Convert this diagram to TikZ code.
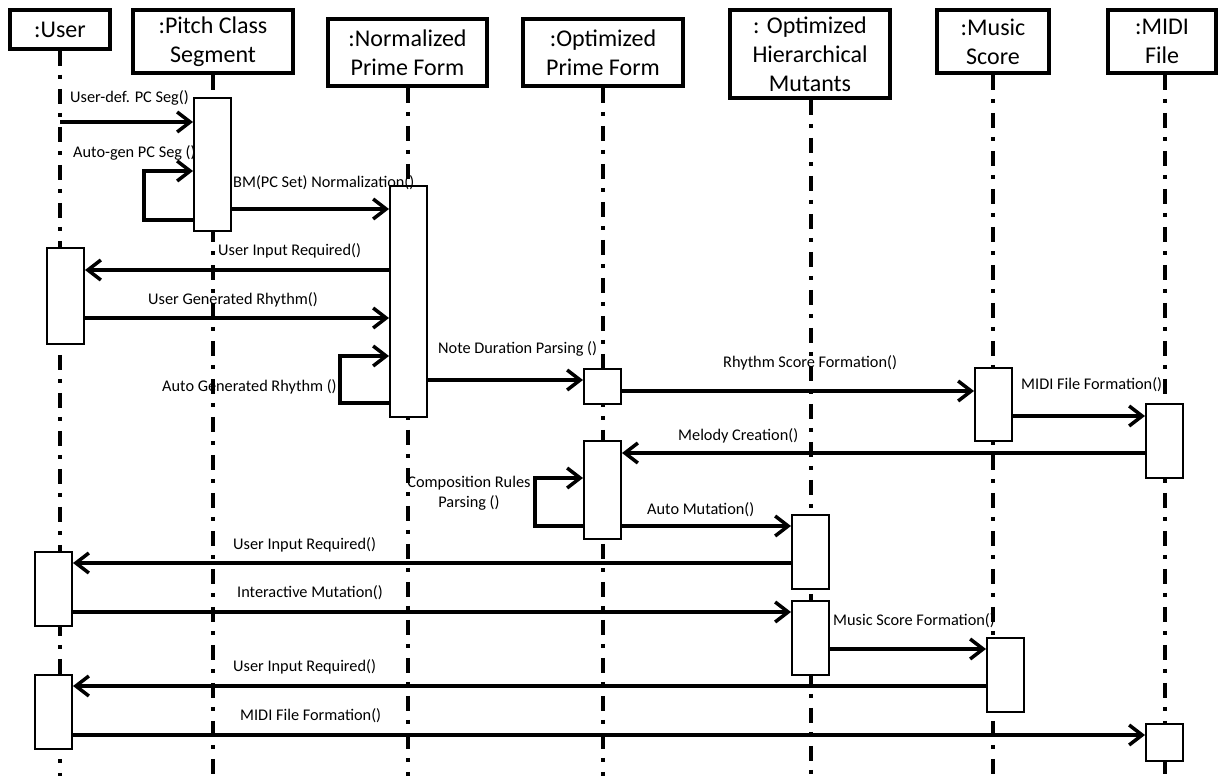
\documentclass[tikz,border=0pt]{standalone}
\usepackage{fontspec}
\setmainfont{Carlito}
\usetikzlibrary{arrows.meta}
\begin{document}
\begin{tikzpicture}[x=1pt,y=-1pt,
  head/.style={draw, line width=3.5pt, fill=white, align=center, inner sep=0pt,
               font=\fontsize{24}{29}\selectfont},
  bar/.style={draw, line width=2pt, fill=white, minimum width=37pt, inner sep=0pt, anchor=north},
  life/.style={line width=4pt, dash pattern=on 15pt off 9pt on 4pt off 10pt},
  msg/.style={line width=3.5pt, -{Straight Barb[length=13pt,width=20pt]}},
  loopmsg/.style={msg, line join=miter},
  lbl/.style={font=\fontsize{16.3}{19}\selectfont, inner sep=0pt, anchor=west},
]
\useasboundingbox (0,0) rectangle (1218,776);

% object heads
\node[head, minimum width=100pt, minimum height=39pt] (usr) at (60,29.5) {:User};
\node[head, minimum width=160pt, minimum height=63pt] (pcs) at (213,41.5) {:Pitch Class\\Segment};
\node[head, minimum width=159pt, minimum height=67pt] (npf) at (407.5,52.5) {:Normalized\\Prime Form};
\node[head, minimum width=160pt, minimum height=67pt] (opf) at (603,52.5) {:Optimized\\Prime Form};
\node[head, minimum width=160pt, minimum height=88pt] (mut) at (810,54) {: Optimized\\Hierarchical\\Mutants};
\node[head, minimum width=112pt, minimum height=63pt] (msc) at (993,41.5) {:Music\\Score};
\node[head, minimum width=108pt, minimum height=63pt] (mid) at (1162,41.5) {:MIDI\\File};

% lifelines
\draw[life] (usr.south) -- (usr.south |- 0,776);
\draw[life] (pcs.south) -- (pcs.south |- 0,776);
\draw[life] (npf.south -| 408,0) -- (408,776);
\draw[life] (opf.south) -- (opf.south |- 0,776);
\draw[life] (mut.south -| 811,0) -- (811,776);
\draw[life] (msc.south) -- (msc.south |- 0,776);
\draw[life] (mid.south -| 1165,0) -- (1165,776);

% activation bars
\node[bar, minimum height=133pt] (pcs1) at (212.5,97) {};
\node[bar, minimum height=231pt] (npf1) at (408.5,185) {};
\node[bar, minimum height=96pt]  (usr1) at (65.5,247) {};
\node[bar, minimum height=35pt]  (opf1) at (602.5,368) {};
\node[bar, minimum height=73pt]  (msc1) at (993.5,367) {};
\node[bar, minimum height=74pt]  (mid1) at (1164.5,403) {};
\node[bar, minimum height=98pt]  (opf2) at (602.5,440) {};
\node[bar, minimum height=74pt]  (mut1) at (810.5,514) {};
\node[bar, minimum height=74pt]  (usr2) at (53.5,551) {};
\node[bar, minimum height=74pt]  (mut2) at (810.5,600) {};
\node[bar, minimum height=74pt]  (msc2) at (1005.5,637) {};
\node[bar, minimum height=74pt]  (usr3) at (53.5,674) {};
\node[bar, minimum height=37pt]  (mid2) at (1164.5,723) {};

% messages
\draw[msg] (usr |- 0,122) -- (pcs1.west |- 0,122);
\draw[loopmsg] (pcs1.west |- 0,220) -- ++(-49,0) |- (pcs1.west |- 0,171);
\draw[msg] (pcs1.east |- 0,209) -- (npf1.west |- 0,209);
\draw[msg] (npf1.west |- 0,270) -- (usr1.east |- 0,270);
\draw[msg] (usr1.east |- 0,318) -- (npf1.west |- 0,318);
\draw[loopmsg] (npf1.west |- 0,403) -- ++(-49,0) |- (npf1.west |- 0,356);
\draw[msg] (npf1.east |- 0,380) -- (opf1.west |- 0,380);
\draw[msg] (opf1.east |- 0,391) -- (msc1.west |- 0,391);
\draw[msg] (msc1.east |- 0,416) -- (mid1.west |- 0,416);
\draw[msg] (mid1.west |- 0,453) -- (opf2.east |- 0,453);
\draw[loopmsg] (opf2.west |- 0,526) -- ++(-48,0) |- (opf2.west |- 0,478);
\draw[msg] (opf2.east |- 0,526) -- (mut1.west |- 0,526);
\draw[msg] (mut1.west |- 0,563) -- (usr2.east |- 0,563);
\draw[msg] (usr2.east |- 0,612) -- (mut2.west |- 0,612);
\draw[msg] (mut2.east |- 0,649) -- (msc2.west |- 0,649);
\draw[msg] (msc2.west |- 0,686) -- (usr3.east |- 0,686);
\draw[msg] (usr3.east |- 0,735) -- (mid2.west |- 0,735);

% message labels
\node[lbl] (l1)  at (70,98)   {User-def. PC Seg()};
\node[lbl] (l2)  at (73,153)  {Auto-gen PC Seg ()};
\node[lbl] (l3)  at (233,183) {BM(PC Set) Normalization()};
\node[lbl] (l4)  at (218,251) {User Input Required()};
\node[lbl] (l5)  at (148,300) {User Generated Rhythm()};
\node[lbl] (l6)  at (162,387) {Auto Generated Rhythm ()};
\node[lbl] (l7)  at (438,349) {Note Duration Parsing ()};
\node[lbl] (l8)  at (723,363) {Rhythm Score Formation()};
\node[lbl] (l9)  at (1021,385) {MIDI File Formation()};
\node[lbl] (l10) at (678,436) {Melody Creation()};
\node[lbl, anchor=center, align=center, font=\fontsize{16.3}{20}\selectfont] (l11) at (469,493) {Composition Rules\\Parsing ()};
\node[lbl] (l12) at (647,510) {Auto Mutation()};
\node[lbl] (l13) at (233,545) {User Input Required()};
\node[lbl] (l14) at (237,593) {Interactive Mutation()};
\node[lbl] (l15) at (833,621) {Music Score Formation()};
\node[lbl] (l16) at (233,667) {User Input Required()};
\node[lbl] (l17) at (240,716) {MIDI File Formation()};
\end{tikzpicture}
\end{document}
